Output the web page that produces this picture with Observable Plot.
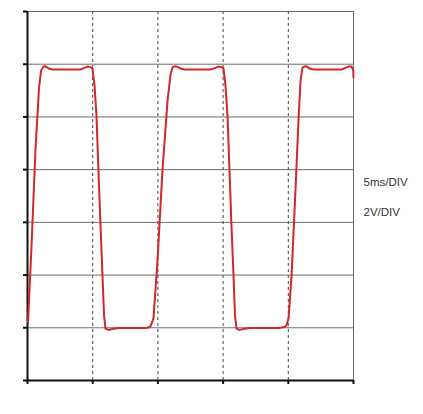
<!DOCTYPE html>
<html>
<head>
<meta charset="utf-8">
<script src="https://cdn.jsdelivr.net/npm/d3@7"></script>
<script src="https://cdn.jsdelivr.net/npm/@observablehq/plot@0.6"></script>
<style>
  html, body { margin: 0; padding: 0; background: #fff; }
  #chart { width: 423px; height: 414px; }
</style>
</head>
<body>
<div id="chart"></div>
<script>
// Oscilloscope trace: time in ms (5 ms/div), voltage in V (2 V/div)
const timeMs = [
  0.04, 0.31, 0.61, 0.88, 1.04, 1.23, 1.38, 1.61, 1.92, 4.06, 4.37, 4.60, 4.83, 4.98,
  5.14, 5.29, 5.44, 5.60, 5.75, 5.87, 5.98, 6.21, 6.52, 6.98, 9.05, 9.28, 9.43, 9.66,
  9.97, 10.35, 10.74, 10.97, 11.12, 11.27, 11.50, 11.73, 12.04, 14.03, 14.42, 14.65, 14.88, 15.03,
  15.18, 15.34, 15.49, 15.64, 15.80, 15.91, 16.03, 16.26, 16.56, 17.02, 19.25, 19.71, 19.86,
  20.02, 20.25, 20.55, 20.78, 20.94, 21.09, 21.24, 21.40, 21.63, 21.93, 24.08, 24.39, 24.62, 24.85,
  24.98, 25.00
];
const voltage = [
  2.20, 5.12, 8.73, 11.08, 11.76, 11.91, 11.92, 11.84, 11.80, 11.80, 11.86, 11.91, 11.89, 11.84,
  11.19, 10.05, 7.97, 5.88, 3.98, 2.47, 1.97, 1.92, 1.95, 1.99, 1.99, 2.01, 2.05, 2.35,
  4.55, 7.97, 10.62, 11.61, 11.88, 11.92, 11.90, 11.84, 11.80, 11.80, 11.86, 11.91, 11.89, 11.84,
  11.19, 10.05, 7.97, 5.88, 3.98, 2.47, 1.97, 1.92, 1.95, 1.99, 1.99, 2.03, 2.09,
  2.35, 3.98, 7.21, 9.86, 11.38, 11.88, 11.91, 11.92, 11.84, 11.80, 11.80, 11.86, 11.91, 11.91,
  11.76, 11.50
];
const xDivisions = [0, 5, 10, 15, 20, 25];
const yDivisions = [0, 2, 4, 6, 8, 10, 12, 14];
const scaleLabels = ["5ms/DIV", "2V/DIV"];

const trace = timeMs.map((t, i) => ({t, v: voltage[i]}));
const innerX = xDivisions.filter(d => d > 0 && d < 25);
const gridY = yDivisions.filter(d => d > 0);

const plot = Plot.plot({
  width: 423,
  height: 414,
  marginLeft: 27,
  marginRight: 70,
  marginTop: 11,
  marginBottom: 34,
  style: {background: "#fff", fontFamily: "'Liberation Sans', Arial, sans-serif"},
  x: {type: "linear", domain: [0, 25], axis: null},
  y: {type: "linear", domain: [0, 14], axis: null},
  marks: [
    Plot.ruleY(gridY, {stroke: "#6e6e6e", strokeWidth: 1}),
    Plot.ruleX(innerX, {stroke: "#444", strokeWidth: 1, strokeDasharray: "3,3"}),
    Plot.ruleX([25], {stroke: "#6e6e6e", strokeWidth: 1}),
    Plot.axisY(yDivisions, {tickSize: 4, tickFormat: () => "", stroke: "#111", strokeWidth: 2, label: null}),
    Plot.axisX(xDivisions, {tickSize: 4, tickFormat: () => "", stroke: "#111", strokeWidth: 2, label: null}),
    Plot.ruleX([0], {stroke: "#111", strokeWidth: 2}),
    Plot.ruleY([0], {stroke: "#111", strokeWidth: 2}),
    Plot.line(trace, {x: "t", y: "v", stroke: "#d3262c", strokeWidth: 2, strokeLinejoin: "round", curve: "linear"}),
    Plot.text([scaleLabels[0]], {frameAnchor: "right", text: d => d, textAnchor: "start", dx: 10, dy: -14, fontSize: 11.5, fill: "#333"}),
    Plot.text([scaleLabels[1]], {frameAnchor: "right", text: d => d, textAnchor: "start", dx: 10, dy: 16, fontSize: 11.5, fill: "#333"})
  ]
});
document.getElementById("chart").appendChild(plot);
</script>
</body>
</html>
